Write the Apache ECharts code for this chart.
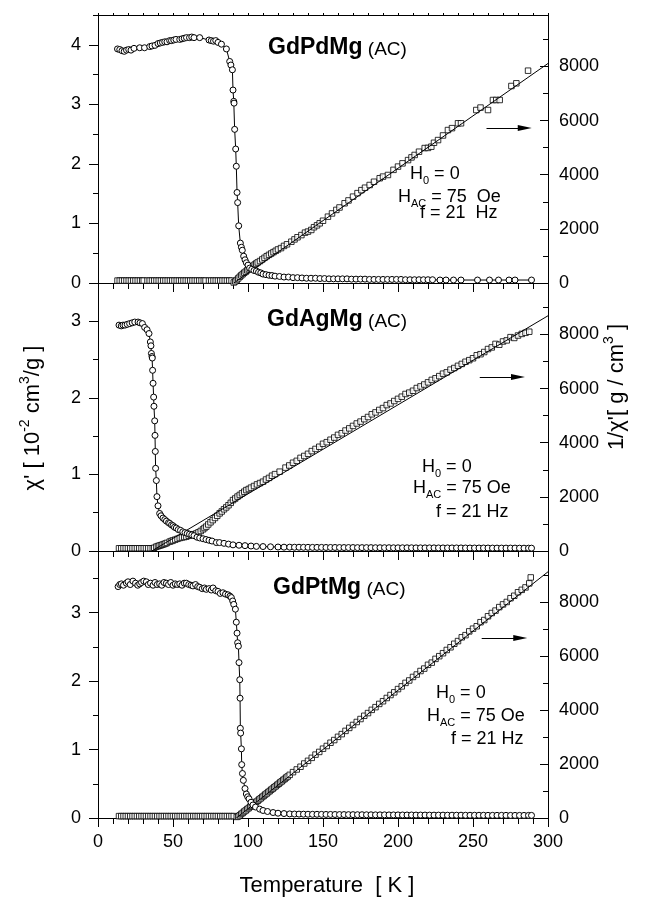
<!DOCTYPE html>
<html>
<head>
<meta charset="utf-8">
<script src="https://cdn.jsdelivr.net/npm/echarts@6/dist/echarts.min.js"></script>
<style>
  html, body { margin: 0; padding: 0; background: #fff; }
  #chart { width: 649px; height: 900px; }
</style>
</head>
<body>
<div id="chart"></div>
<script>
// ---- data: [T (K), value] ----
// GdPdMg
const pdChi = [
  [13,3.93],[14.5,3.92],[16,3.90],[17.5,3.89],[19,3.91],[20.5,3.92],[22,3.91],[24,3.94],[27.8,3.95],[31,3.95],
  [34.5,3.97],[36,3.98],[38,3.99],[40,4.02],[41.5,4.03],[43,4.04],[44.5,4.05],[46,4.05],[47.8,4.07],[49,4.07],
  [50.5,4.08],[52,4.09],[54.5,4.09],[56,4.10],[57.5,4.11],[59,4.12],[61,4.12],[62.5,4.13],[64,4.12],[67.8,4.12],
  [74,4.08],[75.5,4.07],[77,4.06],[78.5,4.07],[80,4.04],[82.3,4.01],[85.6,3.93],[87.8,3.72],[88.6,3.66],[89.6,3.58],
  [90,3.24],[90.5,3.05],[90.7,3.02],[91.1,2.58],[91.8,2.25],[92.2,1.96],[92.7,1.52],[93.1,1.35],[93.8,0.96],[94.9,0.67],
  [95.6,0.60],[96.2,0.55],[97.1,0.45],[98,0.39],[98.9,0.34],[100,0.30],[101.1,0.25],[102.5,0.23],[104,0.21],[105.6,0.20],
  [107,0.18],[108.5,0.17],[110,0.15],[112,0.14],[114,0.13],[116,0.125],[118,0.115],[121,0.11],[124,0.10],[127,0.10],
  [130,0.09],[133,0.09],[136,0.085],[139,0.08],[142,0.08],[145,0.08],[148,0.075],[151,0.075],[154,0.07],[157,0.07],
  [160,0.07],[163,0.07],[166,0.07],[169,0.065],[172,0.065],[175,0.065],[178,0.065],[181,0.06],[184,0.06],[187,0.06],
  [190,0.06],[193,0.06],[196,0.06],[199,0.06],[202,0.06],[205,0.055],[208,0.055],[211,0.055],[214,0.055],[217,0.055],
  [220,0.055],[223,0.055],[228,0.05],[232,0.05],[237,0.05],[242,0.05],[253,0.05],[261,0.05],[267,0.05],[274,0.05],
  [278,0.05],[289,0.05]
];
const pdInv = [
  [13,90],[14.5,90],[16,90],[17.5,90],[19,90],[20.5,90],[22,90],[23.5,90],[25,90],[26.5,90],[28,90],[29.5,90],[30.5,90],
  [33,90],[34.5,90],[36,90],[37.5,90],[39,90],[40.5,90],[42,90],[43.5,90],[45,90],[46.5,90],[48,90],[49.5,90],[51,90],
  [52.5,90],[54,90],[55.5,90],[57,90],[58.5,90],[60,90],[61.5,90],[63,90],[64.5,90],[66,90],[67.5,90],[69,90],[70.5,90],
  [71.7,90],[74,90],[75.5,90],[77,90],[78.5,90],[80,90],[81.5,90],[83,90],[84.5,90],[86,90],[87.5,90],[89,90],
  [90.5,20],[91.5,60],[92.5,110],[93.5,170],[94.5,230],[95.5,280],[96.5,330],[97.5,380],[98.5,420],[99.5,470],
  [100.5,510],[101.5,560],[102.5,600],[103.5,640],[104.5,680],[105.5,720],[106.5,760],[108,810],[109.5,870],[111,930],
  [112.5,990],[114,1040],[115.5,1090],[117,1140],[118.5,1190],[120,1240],[122,1290],[124,1370],[126,1430],[128.9,1525],
  [131,1610],[133,1690],[135.6,1770],[138,1860],[140,1900],[142.2,1960],[144,2060],[146,2130],[147.8,2205],[150,2300],
  [153.3,2450],[156,2570],[158.9,2700],[161,2790],[164.4,2945],[167,3050],[170,3190],[173,3320],[175.6,3430],[178,3520],
  [181.1,3620],[184,3740],[187.8,3870],[190,3930],[193.3,3990],[197,4180],[200,4300],[203,4420],[206.7,4540],[209,4640],
  [211.1,4730],[214,4850],[217.8,4985],[220,4990],[222.2,5035],[224,5180],[226.7,5280],[230,5450],[233.3,5650],[236,5720],
  [240,5900],[242,5900],[252.2,6390],[255,6480],[260,6390],[263.3,6760],[265.5,6760],[267.8,6760],[275.6,7277],[278.9,7377],
  [286.7,7843]
];
const pdFit = [[90.5,0],[300,8110]];
const pdArrow = [[259,5726],[284.5,5726]];

// GdAgMg
const agChi = [
  [14,2.95],[15.5,2.94],[16.7,2.95],[18,2.95],[19.5,2.96],[21.1,2.97],[22.8,2.98],[24.5,2.99],[26.7,2.99],[28,2.98],
  [29.6,2.97],[31.1,2.92],[32.7,2.89],[34,2.84],[34.9,2.73],[35.3,2.68],[35.6,2.58],[36,2.54],[36.2,2.52],[36.4,2.36],
  [36.7,2.19],[37.1,2.01],[37.3,1.89],[37.8,1.70],[38,1.51],[38.2,1.30],[38.4,1.08],[38.9,0.92],[39.3,0.71],[40,0.59],
  [41.1,0.49],[42,0.46],[43.3,0.43],[44.5,0.41],[45.6,0.39],[47,0.37],[47.8,0.36],[49,0.34],[50,0.33],[51,0.31],
  [52.2,0.30],[53.5,0.28],[55,0.27],[56.5,0.25],[58,0.24],[59.5,0.23],[61,0.22],[62.5,0.21],[64,0.20],[66,0.18],
  [67.8,0.17],[70,0.16],[72,0.15],[74,0.14],[76,0.13],[78.9,0.11],[81,0.11],[84,0.10],[87,0.09],[90,0.08],
  [94,0.075],[98,0.07],[102,0.065],[105.6,0.06],[110,0.058],[115,0.055],[120,0.052],[124,0.05],[127.8,0.05],[131,0.049],
  [134,0.049],[137,0.048],[140,0.048],[143,0.047],[146,0.047],[149,0.047],[152,0.046],[155,0.046],[158,0.046],[161,0.045],
  [164,0.045],[167,0.045],[170,0.045],[173,0.044],[176,0.044],[179,0.044],[182,0.044],[185,0.043],[188,0.043],[191,0.043],
  [194,0.043],[197,0.042],[200,0.042],[203,0.042],[206,0.042],[209,0.042],[212,0.041],[215,0.041],[218,0.041],[221,0.041],
  [224,0.041],[227,0.040],[230,0.040],[233,0.040],[236,0.040],[239,0.040],[242,0.040],[245,0.039],[248,0.039],[251,0.039],
  [254,0.039],[257,0.039],[260,0.039],[263,0.038],[266,0.038],[269,0.038],[272,0.038],[275,0.038],[278,0.038],[281,0.037],
  [284,0.037],[287,0.037],[289,0.037]
];
const agInv = [
  [14,100],[15.5,100],[17,100],[18.5,100],[20,100],[21.5,100],[23,100],[24.5,100],[26,100],[27.5,100],[29,100],[30.5,100],
  [32,100],[33.5,100],[35,100],[36.5,100],[37.5,120],[38.9,160],[40,180],[41,200],[42,215],[43,235],[44,255],[45,275],
  [46,300],[47.8,345],[49,370],[50,390],[51.5,420],[53,450],[54.5,480],[56,500],[57.5,515],[58.9,530],[60.5,565],[62,590],
  [63.5,620],[65.6,650],[67,690],[68.5,740],[70,800],[71,850],[72.2,900],[73.5,980],[75,1060],[76.5,1140],[78,1220],
  [79.5,1300],[81.1,1390],[82.5,1460],[84,1540],[85.5,1610],[87,1690],[88.5,1780],[90,1880],[91.5,1940],[93,2010],
  [94.5,2070],[96,2130],[97.5,2190],[98.9,2250],[100.5,2290],[102,2340],[104,2400],[106,2460],[108,2510],[110,2560],
  [112,2640],[114,2700],[116,2780],[118,2840],[121.1,2930],[125,3080],[127.5,3160],[130,3260],[132.5,3330],[135,3440],
  [137.5,3510],[140,3590],[142.5,3690],[145,3770],[147.5,3850],[150,3960],[152.5,4020],[155,4110],[157.5,4190],[160,4290],
  [162.5,4350],[165,4450],[167.5,4530],[170,4620],[172.5,4710],[175,4780],[177.5,4870],[180,4950],[182.5,5050],[185,5120],
  [187.5,5210],[190,5280],[192.5,5390],[195,5450],[197.5,5540],[200,5620],[202.5,5700],[205,5800],[207.5,5850],[210,5920],
  [212.5,6020],[215,6080],[217.5,6150],[220,6230],[222.5,6320],[225,6380],[227.5,6460],[230,6550],[232.5,6600],[235,6700],
  [237.5,6760],[240,6840],[242.5,6910],[245,6990],[247.5,7050],[250,7120],[252.5,7230],[255,7270],[257.5,7350],[260,7460],
  [262.5,7520],[265,7650],[267.5,7620],[270,7740],[272.5,7780],[275,7900],[277.5,7870],[280,7960],[282.5,8020],[285,8060],
  [287.5,8100]
];
const agFit = [[35.8,0],[300,8690]];
const agArrow = [[254.5,6428],[280,6428]];

// GdPtMg
const ptChi = [
  [13.4,3.38],[14.5,3.41],[15.6,3.42],[17,3.40],[18.9,3.43],[20,3.45],[21.5,3.41],[23.3,3.46],[25,3.43],[26.5,3.40],
  [27.8,3.42],[29,3.44],[30.5,3.46],[32.2,3.45],[33.5,3.41],[35,3.43],[36.7,3.40],[38,3.44],[39.5,3.41],[41.1,3.42],
  [42.5,3.40],[44,3.44],[45.6,3.43],[47,3.41],[48.5,3.44],[50,3.40],[51.5,3.42],[53,3.41],[54.5,3.42],[56,3.40],
  [57.5,3.43],[58.9,3.43],[60.5,3.41],[62,3.40],[63.3,3.39],[65,3.41],[66.5,3.38],[67.8,3.37],[69.5,3.35],[71,3.36],
  [72.2,3.34],[74,3.35],[75.5,3.33],[76.7,3.36],[78.5,3.32],[80,3.31],[81.5,3.28],[83.3,3.29],[85,3.27],[86.7,3.26],
  [88,3.24],[88.9,3.22],[89.8,3.17],[90.5,3.12],[91.6,3.05],[92.2,2.86],[92.7,2.70],[93.1,2.56],[93.6,2.51],[94,2.27],
  [94.5,2.02],[94.7,1.75],[94.9,1.31],[95.1,1.24],[95.6,1.01],[95.8,0.78],[96.3,0.65],[96.9,0.55],[98,0.43],[98.9,0.35],
  [99.8,0.31],[100.7,0.28],[102,0.23],[103.3,0.19],[105,0.16],[107.8,0.13],[110,0.11],[113,0.095],[116.7,0.08],[120,0.07],
  [124,0.065],[127.8,0.06],[131,0.058],[134,0.057],[137,0.056],[140,0.055],[143,0.054],[146,0.054],[149,0.053],[152,0.052],
  [155,0.052],[158,0.051],[161,0.050],[164,0.050],[167,0.049],[170,0.049],[173,0.048],[176,0.048],[179,0.047],[182,0.047],
  [185,0.046],[188,0.046],[191,0.046],[194,0.045],[197,0.045],[200,0.045],[203,0.044],[206,0.044],[209,0.044],[212,0.043],
  [215,0.043],[218,0.043],[221,0.042],[224,0.042],[227,0.042],[230,0.042],[233,0.041],[236,0.041],[239,0.041],[242,0.041],
  [245,0.040],[248,0.040],[251,0.040],[254,0.040],[257,0.040],[260,0.039],[263,0.039],[266,0.039],[269,0.039],[272,0.039],
  [275,0.038],[278,0.038],[281,0.038],[284,0.038],[287,0.038],[289,0.038]
];
const ptInv = [
  [14,70],[15.5,70],[17,70],[18.5,70],[20,70],[21.5,70],[23,70],[24.5,70],[26,70],[27.5,70],[29,70],[30.5,70],[32,70],
  [33.5,70],[35,70],[36.5,70],[38,70],[39.5,70],[41,70],[42.5,70],[44,70],[45.5,70],[47,70],[48.5,70],[50,70],[51.5,70],
  [53,70],[54.5,70],[56,70],[57.5,70],[59,70],[60.5,70],[62,70],[63.5,70],[65,70],[66.5,70],[68,70],[69.5,70],[71,70],
  [72.5,70],[74,70],[75.5,70],[77,70],[78.5,70],[80,70],[81.5,70],[83,70],[84.5,70],[86,70],[87.5,70],[89,70],[90.5,70],
  [92.5,40],[93.5,60],[94.5,100],[95.5,150],[96.5,190],[97.5,240],[98.5,280],[99.5,330],[100.5,370],[101.5,420],
  [102.5,460],[103.5,510],[104.5,550],[105.5,600],[106.5,640],[107.5,690],[108.5,730],[109.5,780],[110.5,820],[111.5,870],
  [112.5,910],[113.5,960],[114.5,1000],[115.5,1050],[116.5,1090],[117.5,1140],[118.5,1180],[119.5,1230],[120.5,1270],
  [121.5,1320],[122.5,1360],[123.5,1410],[124.5,1450],[125.5,1500],[126.5,1540],[127.8,1600],[130,1700],[132.5,1800],
  [135,1900],[137.5,2020],[140,2120],[142.5,2230],[145,2350],[147.5,2450],[150,2570],[152.5,2670],[155,2790],[157.5,2890],
  [160,3010],[162.5,3110],[165,3230],[167.5,3340],[170,3450],[172.5,3560],[175,3670],[177.5,3790],[180,3890],[182.5,4010],
  [185,4110],[187.5,4230],[190,4330],[192.5,4450],[195,4560],[197.5,4660],[200,4780],[202.5,4880],[205,5010],[207.5,5100],
  [210,5230],[212.5,5320],[215,5450],[217.5,5540],[220,5680],[222.5,5760],[225,5900],[227.5,6000],[230,6110],[232.5,6230],
  [235,6330],[237.5,6460],[240,6560],[242.5,6700],[245,6780],[247.5,6920],[250,7020],[252.5,7110],[255,7260],[257.5,7340],
  [260,7480],[262.5,7600],[265,7690],[267.5,7820],[270,7920],[272.5,8010],[275,8150],[277.5,8240],[280,8370],[282.5,8460],
  [285,8550],[287.5,8700],[288.5,8920]
];
const ptFit = [[92.2,0],[300,9130]];
const ptArrow = [[255.8,6674],[281.5,6674]];

const FONT = "'Liberation Sans', Arial, sans-serif";
const BLACK = '#000';

const panels = [
  { top: 15,  height: 268, chiMax: 4.5, chi: pdChi, inv: pdInv, fit: pdFit, arrow: pdArrow },
  { top: 283, height: 268, chiMax: 3.5, chi: agChi, inv: agInv, fit: agFit, arrow: agArrow },
  { top: 551, height: 267, chiMax: 3.9, chi: ptChi, inv: ptInv, fit: ptFit, arrow: ptArrow }
];

const grid = [], xAxis = [], yAxis = [], series = [];
const line = { lineStyle: { color: BLACK, width: 1 } };
const plain = (v) => String(v);

panels.forEach((p, i) => {
  grid.push({ left: 98, right: 101, top: p.top, height: p.height });
  xAxis.push({
    gridIndex: i, type: 'value', min: 0, max: 300, interval: 50,
    axisLine: { onZero: false, ...line },
    axisTick: { inside: false, length: 9, ...line },
    minorTick: { show: true, splitNumber: 5, length: 6, ...line },
    axisLabel: { show: i === 2, color: BLACK, fontSize: 18, fontFamily: FONT, margin: 15, formatter: plain },
    splitLine: { show: false }
  });
  // left: major ticks + labels, then minor ticks
  yAxis.push({
    gridIndex: i, type: 'value', position: 'left', min: 0, max: p.chiMax, interval: 1,
    axisLine: { show: true, onZero: false, ...line },
    axisTick: { inside: false, length: 9, ...line },
    axisLabel: { color: BLACK, fontSize: 18, fontFamily: FONT, margin: 17, showMaxLabel: false, formatter: plain },
    splitLine: { show: false }
  });
  yAxis.push({
    gridIndex: i, type: 'value', position: 'left', min: 0, max: p.chiMax, interval: 0.5,
    axisLine: { show: false, onZero: false },
    axisTick: { inside: false, length: 5, ...line },
    axisLabel: { show: false }, splitLine: { show: false }
  });
  // right: 1/chi axis
  yAxis.push({
    gridIndex: i, type: 'value', position: 'right', min: 0, max: 9900, interval: 2000,
    axisLine: { show: true, onZero: false, ...line },
    axisTick: { inside: true, length: 8, ...line },
    axisLabel: { color: BLACK, fontSize: 18, fontFamily: FONT, margin: 11, showMaxLabel: false, formatter: plain },
    splitLine: { show: false }
  });
  yAxis.push({
    gridIndex: i, type: 'value', position: 'right', min: 0, max: 9900, interval: 1000,
    axisLine: { show: false, onZero: false },
    axisTick: { inside: true, length: 5, ...line },
    axisLabel: { show: false }, splitLine: { show: false }
  });

  series.push({
    type: 'scatter', xAxisIndex: i, yAxisIndex: 4 * i + 2, data: p.inv,
    symbol: 'rect', symbolSize: 5.5,
    itemStyle: { color: '#fff', borderColor: BLACK, borderWidth: 1 },
    markLine: {
      silent: true, animation: false, label: { show: false },
      lineStyle: { color: BLACK, width: 1, type: 'solid' },
      data: [[
        { coord: p.arrow[0], symbol: 'none' },
        { coord: p.arrow[1], symbol: 'triangle', symbolSize: [6, 14] }
      ]]
    }
  });
  series.push({
    type: 'line', xAxisIndex: i, yAxisIndex: 4 * i + 2, data: p.fit,
    symbol: 'none', lineStyle: { color: BLACK, width: 1 }
  });
  series.push({
    type: 'line', xAxisIndex: i, yAxisIndex: 4 * i, data: p.chi,
    symbol: 'circle', symbolSize: 6, showAllSymbol: true,
    itemStyle: { color: '#fff', borderColor: BLACK, borderWidth: 1 },
    lineStyle: { color: BLACK, width: 1 }
  });
});

// little ticks along the top frame
xAxis.push({
  gridIndex: 0, type: 'value', position: 'top', min: 0, max: 300, interval: 50,
  axisLine: { onZero: false, ...line },
  axisTick: { inside: false, length: 2, ...line },
  minorTick: { show: true, splitNumber: 5, length: 2, ...line },
  axisLabel: { show: false }, splitLine: { show: false }
});

const richTitle = {
  b: { fontSize: 23, fontWeight: 'bold', fontFamily: FONT, verticalAlign: 'bottom' },
  n: { fontSize: 19, fontFamily: FONT, verticalAlign: 'bottom' }
};
const richNote = {
  h: { fontSize: 18, fontFamily: FONT, lineHeight: 20, verticalAlign: 'top' },
  s: { fontSize: 11, fontFamily: FONT, lineHeight: 12, padding: [10, 0, 0, 0], verticalAlign: 'top' }
};
const richAxis = {
  t: { fontSize: 22, fontFamily: FONT, lineHeight: 26, verticalAlign: 'bottom' },
  p: { fontSize: 14, fontFamily: FONT, lineHeight: 14, verticalAlign: 'top' }
};

function txt(x, y, text, rich, extra) {
  return Object.assign({
    type: 'text', x: x, y: y,
    style: { text: text, rich: rich, fill: BLACK, align: 'left', verticalAlign: 'middle' }
  }, extra || {});
}

const graphic = [
  txt(268, 48, '{b|GdPdMg}{n| (AC)}', richTitle),
  txt(267, 320, '{b|GdAgMg}{n| (AC)}', richTitle),
  txt(273, 588, '{b|GdPtMg}{n| (AC)}', richTitle),

  txt(410, 175, '{h|H}{s|0}{h| = 0}', richNote),
  txt(398, 198, '{h|H}{s|AC}{h| = 75  Oe}', richNote),
  txt(420, 214, '{h|f = 21  Hz}', richNote),

  txt(422, 468, '{h|H}{s|0}{h| = 0}', richNote),
  txt(413, 489, '{h|H}{s|AC}{h| = 75 Oe}', richNote),
  txt(436, 513, '{h|f = 21 Hz}', richNote),

  txt(436, 694, '{h|H}{s|0}{h| = 0}', richNote),
  txt(427, 717, '{h|H}{s|AC}{h| = 75 Oe}', richNote),
  txt(451, 740, '{h|f = 21 Hz}', richNote),

  {
    type: 'text', x: 327, y: 886,
    style: { text: 'Temperature  [ K ]', fill: BLACK, fontSize: 22, fontFamily: FONT, align: 'center', verticalAlign: 'middle' }
  },
  {
    type: 'text', x: 31, y: 418, rotation: Math.PI / 2,
    style: { text: "{t|χ' [ 10}{p|-2}{t| cm}{p|3}{t|/g ]}", rich: richAxis, fill: BLACK, align: 'center', verticalAlign: 'middle' }
  },
  {
    type: 'text', x: 615, y: 387, rotation: Math.PI / 2,
    style: { text: "{t|1/χ'[ g / cm}{p|3}{t| ]}", rich: richAxis, fill: BLACK, align: 'center', verticalAlign: 'middle' }
  }
];

const chart = echarts.init(document.getElementById('chart'));
chart.setOption({
  animation: false,
  backgroundColor: '#fff',
  grid: grid,
  xAxis: xAxis,
  yAxis: yAxis,
  series: series,
  graphic: graphic
});
</script>
</body>
</html>
